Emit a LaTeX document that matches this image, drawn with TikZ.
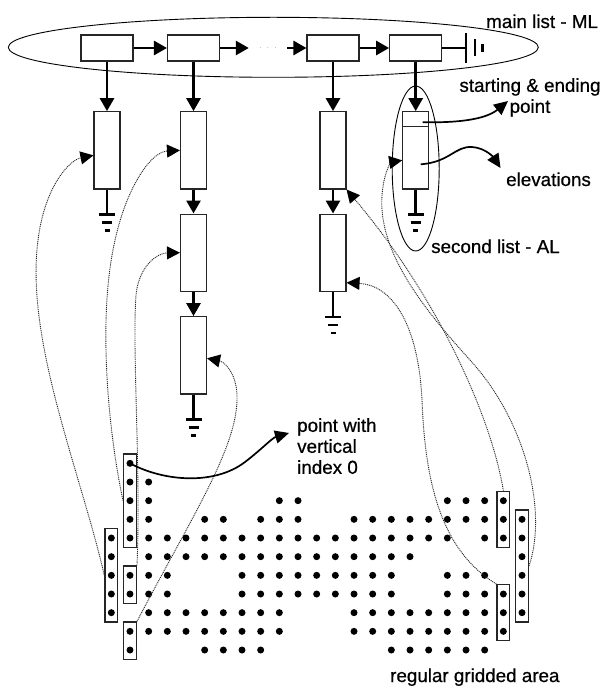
\documentclass[tikz,border=0pt]{standalone}
\usepackage{fontspec}
\setmainfont{Liberation Sans}
\newfontfamily\lblfont[FakeBold=0.6]{Liberation Sans}
\usetikzlibrary{arrows.meta,fit,shapes.geometric}
\begin{document}
\begin{tikzpicture}[x=1pt,y=-1pt,
  lbl/.style={font=\lblfont\fontsize{18.8}{21}\selectfont, inner sep=0pt},
  mbox/.style={draw=black!85, line width=1.1pt, minimum width=52pt, minimum height=26pt, inner sep=0pt},
  abox/.style={draw=black!85, line width=1.1pt, minimum width=26pt, minimum height=77.3pt, inner sep=0pt},
  bigarrow/.style={line width=2.7pt, -{Triangle[length=13pt,width=14pt]}},
  gline/.style={line width=2.7pt},
  dotc/.style={circle, fill=black, inner sep=0pt, minimum size=7pt},
  gbox/.style={draw=black!85, line width=1.4pt, inner xsep=2.6pt, inner ysep=5.6pt},
  dotlink/.style={line width=0.9pt, black!85, dash pattern=on 1pt off 0.9pt, -{Triangle[length=13pt,width=13pt,color=black]}},
  labarrow/.style={line width=1.7pt, -{Triangle[length=14pt,width=13pt]}},
  ellip/.style={draw, ellipse, line width=0.9pt, inner sep=0pt},
  gnd/.pic={
    \draw[gline] (0,0) -- (0,25);
    \draw[gline] (-8,25) -- (8,25);
    \draw[gline] (-5,33) -- (5,33);
    \draw[gline] (-2.5,41) -- (2.5,41);
  }
]
\fill[white] (0,0) rectangle (610,695);
\useasboundingbox (0,0) rectangle (610,695);

% main list
\node[ellip, minimum width=530pt, minimum height=60pt] (mlell) at (273.3,47.3) {};
\node[mbox] (m1) at (107,48) {};
\node[mbox] (m2) at (193.5,48) {};
\node[mbox] (m3) at (333,48) {};
\node[mbox] (m4) at (415.7,48) {};
\node[inner sep=0pt, minimum width=38pt, minimum height=8pt, text=black!55, font=\fontsize{9}{9}\selectfont] (ell) at (268,48) {$\cdot\,\,\cdot\,\,\cdot$};
\draw[bigarrow] (m1.east) -- (m2.west);
\draw[bigarrow] (m2.east) -- (ell.west);
\draw[bigarrow] (ell.east) -- (m3.west);
\draw[bigarrow] (m3.east) -- (m4.west);
\coordinate (mg) at (466,48);
\draw[gline] (m4.east) -- (mg);
\draw[gline] (466,33) -- (466,63);
\draw[gline] (475,39.5) -- (475,56.5);
\draw[gline] (482.5,44) -- (482.5,52);

% second lists
\node[abox] (a11) at (107,150.35) {};
\node[abox] (a21) at (193.5,150.35) {};
\node[abox] (a22) at (193.5,252.7) {};
\node[abox] (a23) at (193.5,355.3) {};
\node[abox] (a31) at (333,150.35) {};
\node[abox] (a32) at (333,252.7) {};
\node[abox] (a4) at (415.7,150.35) {};
\draw[line width=1.1pt, black!85] ([yshift=-15.6pt]a4.north west) -- ([yshift=-15.6pt]a4.north east);
\node[ellip, minimum width=47pt, minimum height=165pt] (alell) at (415.7,168.5) {};

\draw[bigarrow] (m1.south) -- (a11.north);
\draw[bigarrow] (m2.south) -- (a21.north);
\draw[bigarrow] (m3.south) -- (a31.north);
\draw[bigarrow] (m4.south) -- (a4.north);
\draw[bigarrow] (a21.south) -- (a22.north);
\draw[bigarrow] (a22.south) -- (a23.north);
\draw[bigarrow] (a31.south) -- (a32.north);
\pic at (a11.south) {gnd};
\pic at (a23.south) {gnd};
\pic at (a32.south) {gnd};
\pic at (a4.south) {gnd};

% grid of points
\foreach \r/\cols in {
  0/{1},
  1/{1,2},
  2/{1,2,9,10,18,19,20,21},
  3/{1,2,5,6,8,9,10,13,14,15,16,17,18,19,20,21,22},
  4/{0,1,2,3,4,5,6,7,8,9,10,11,12,13,14,15,16,17,18,20,21,22},
  5/{0,2,3,4,5,6,7,8,9,10,11,12,13,14,15,16,22},
  6/{0,1,2,3,7,8,9,10,11,12,13,14,15,18,19,20,22},
  7/{0,1,2,3,7,8,9,10,11,12,13,14,15,18,19,20,21,22},
  8/{0,2,3,4,5,6,7,8,9,13,14,15,16,17,18,19,20,21,22},
  9/{1,2,3,4,5,6,7,8,9,13,14,15,16,17,18,19,20,21},
  10/{1,5,6,7,8,15,16,17,18,19,20}}{
  \foreach \c in \cols {
    \node[dotc] (d-\c-\r) at ({111.33+18.667*\c},{463.33+18.667*\r}) {};
  }
}
\node[gbox, fit=(d-1-0)(d-1-4)] (A) {};
\node[gbox, fit=(d-0-4)(d-0-8)] (B) {};
\node[gbox, fit=(d-1-6)(d-1-7)] (C) {};
\node[gbox, fit=(d-1-9)(d-1-10)] (D) {};
\node[gbox, fit=(d-21-2)(d-21-4)] (E) {};
\node[gbox, fit=(d-22-3)(d-22-8)] (F) {};
\node[gbox, fit=(d-21-7)(d-21-9)] (G) {};

% dotted links
\draw[dotlink] (B.west) .. controls (80,470) and (25,340) .. (38,240)
  .. controls (45,185) and (70,160) .. ([yshift=-5pt]a11.west);
\draw[dotlink] (A.west) .. controls (108,430) and (98,320) .. (114,245)
  .. controls (125,190) and (150,152) .. (a21.west);
\draw[dotlink] (C.north east) .. controls (141,470) and (132,350) .. (136,295)
  .. controls (139,265) and (158,253) .. (a22.west);
\draw[dotlink] (D.north east) .. controls (190,520) and (236,450) .. (237,400)
  .. controls (238,375) and (225,362) .. ([yshift=-3pt]a23.east);
\draw[dotlink] (E.north) .. controls (492,420) and (440,300) .. (a31.south east);
\draw[dotlink] (F.east) .. controls (548,510) and (525,420) .. (470,360)
  .. controls (420,305) and (378,250) .. (382,195)
  .. controls (384,170) and (392,162) .. ([yshift=-10pt]a4.west);
\draw[dotlink] (G.north west) .. controls (440,550) and (425,480) .. (422,400)
  .. controls (418,320) and (390,285) .. ([yshift=-30pt]a32.east);

% labels
\node[lbl, anchor=base west] (tml) at (486,28) {main list - ML};
\node[lbl, align=center, anchor=north] (tse) at (530,78) {starting \& ending\\point};
\node[lbl, anchor=base west] (tel) at (506,186) {elevations};
\node[lbl, anchor=base west] (tsl) at (431,253) {second list - AL};
\node[lbl, align=left, anchor=north west] (tpw) at (297,418) {point with\\vertical\\index 0};
\node[lbl, anchor=base west] (trg) at (390,682) {regular gridded area};

\coordinate (seTip) at (508,101);
\coordinate (elTip) at (500.5,168);
\coordinate (pwTip) at (289,433);
\draw[labarrow] ([xshift=7pt,yshift=-11pt]a4.north) .. controls (455,123) and (485,120) .. (seTip);
\draw[labarrow] ([xshift=5pt,yshift=-14pt]a4.center) .. controls (450,162) and (455,146) .. (472,147)
  .. controls (486,148) and (494,158) .. (elTip);
\draw[labarrow] (d-1-0.center) .. controls (165,482) and (215,485) .. (245,462)
  .. controls (262,449) and (272,438) .. (pwTip);
\end{tikzpicture}
\end{document}
